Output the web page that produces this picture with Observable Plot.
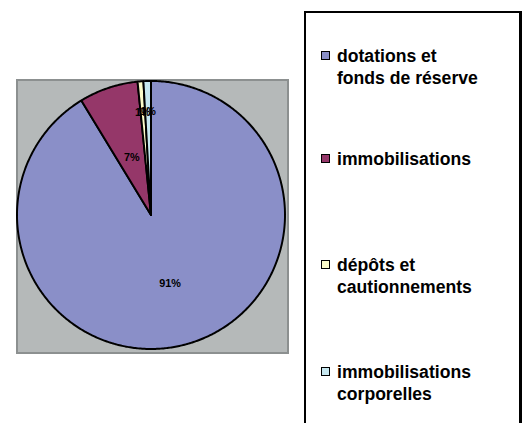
<!DOCTYPE html>
<html>
<head>
<meta charset="utf-8">
<script src="https://cdn.jsdelivr.net/npm/d3@7"></script>
<script src="https://cdn.jsdelivr.net/npm/@observablehq/plot@0.6"></script>
<style>
  body { margin: 0; background: #fff; width: 529px; height: 423px; overflow: hidden; position: relative; font-family: Arial, "Liberation Sans", sans-serif; }
  #plotbox { position: absolute; left: 16px; top: 79px; width: 269px; height: 271px; background: #b5b9b9; border: 2px solid #8c9090; }
  #plotbox svg { position: absolute; left: -2px; top: -2px; overflow: visible; }
  #legend { position: absolute; left: 304px; top: 11px; width: 213px; height: 440px; border: 2px solid #000; border-right-width: 3px; box-sizing: content-box; }
  .item { position: absolute; left: 15px; display: flex; align-items: flex-start; font-weight: bold; font-size: 17.6px; line-height: 22px; color: #000; }
  .sw { width: 7px; height: 7px; border: 1.5px solid #000; margin-top: 6px; margin-right: 7px; flex: none; }
</style>
</head>
<body>
<div id="plotbox"></div>
<div id="legend"></div>
<script>
const categories = ["dotations et fonds de réserve", "immobilisations", "dépôts et cautionnements", "immobilisations corporelles"];
const legendLines = [["dotations et", "fonds de réserve"], ["immobilisations"], ["dépôts et", "cautionnements"], ["immobilisations", "corporelles"]];
const values = [91.3, 7.1, 0.7, 0.9];
const labels = ["91%", "7%", "1%", "1%"];
const colors = ["#8a8fc8", "#953769", "#fbfbc9", "#c6e7ef"];

const pie = d3.pie().sort(null).startAngle(0).endAngle(2 * Math.PI)(values);

// slice outlines built from the pie angles
const slices = [];
pie.forEach((p, i) => {
  const pts = [[0, 0]];
  const n = Math.max(2, Math.ceil((p.endAngle - p.startAngle) / 0.01));
  for (let k = 0; k <= n; k++) {
    const a = p.startAngle + (p.endAngle - p.startAngle) * k / n;
    pts.push([Math.sin(a), Math.cos(a)]);
  }
  pts.push([0, 0]);
  pts.forEach(([x, y]) => slices.push({cat: categories[i], x, y}));
});

const labelData = pie.map((p, i) => {
  const a = (p.startAngle + p.endAngle) / 2;
  const share = values[i] / d3.sum(values);
  const r = share > 0.5 ? 0.53 : share > 0.05 ? 0.45 : 0.77;
  return {x: r * Math.sin(a), y: r * Math.cos(a), label: labels[i]};
});

const chart = Plot.plot({
  width: 273, height: 275,
  marginLeft: 0.5, marginRight: 0.5, marginTop: 1.5, marginBottom: 1.5,
  x: {domain: [-1, 1], axis: null},
  y: {domain: [-1, 1], axis: null},
  color: {domain: categories, range: colors},
  style: {background: "transparent", overflow: "visible"},
  marks: [
    Plot.line(slices, {x: "x", y: "y", z: "cat", fill: "cat", stroke: "#000", strokeWidth: 2, strokeLinejoin: "round", curve: "linear"}),
    Plot.text(labelData, {x: "x", y: "y", text: "label", fontSize: 11, fontWeight: "bold", fill: "#000", fontFamily: "Arial, Liberation Sans, sans-serif"})
  ]
});
document.getElementById("plotbox").appendChild(chart);

const legend = document.getElementById("legend");
const tops = [32, 135, 241, 348];
legendLines.forEach((lines, i) => {
  const d = document.createElement("div");
  d.className = "item";
  d.style.top = tops[i] + "px";
  const sw = document.createElement("div");
  sw.className = "sw";
  sw.style.background = colors[i];
  const t = document.createElement("div");
  t.innerHTML = lines.join("<br>");
  d.appendChild(sw); d.appendChild(t);
  legend.appendChild(d);
});
</script>
</body>
</html>
